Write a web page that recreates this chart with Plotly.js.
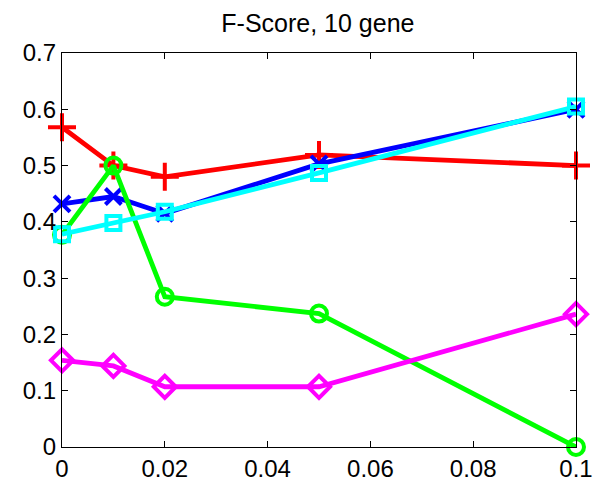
<!DOCTYPE html>
<html><head><meta charset="utf-8">
<script src="https://cdn.plot.ly/plotly-3.0.1.min.js"></script>
<style>html,body{margin:0;padding:0;background:#fff;}</style>
</head><body>
<div id="chart" style="width:609px;height:484px;"></div>
<script>
var xVals = [0, 0.01, 0.02, 0.05, 0.1];
var redVals = [0.568, 0.50, 0.480, 0.519, 0.50];
var blueVals = [0.432, 0.445, 0.415, 0.503, 0.60];
var greenVals = [0.377, 0.50, 0.267, 0.237, 0.0];
var cyanVals = [0.378, 0.398, 0.418, 0.487, 0.605];
var magentaVals = [0.154, 0.144, 0.107, 0.107, 0.236];
var xTicks = [0, 0.02, 0.04, 0.06, 0.08, 0.1];
var xTickText = ['0', '0.02', '0.04', '0.06', '0.08', '0.1'];
var yTicks = [0, 0.1, 0.2, 0.3, 0.4, 0.5, 0.6, 0.7];
var yTickText = ['0', '0.1', '0.2', '0.3', '0.4', '0.5', '0.6', '0.7'];

function tr(y, color, sym, size) {
  return {x: xVals, y: y, type: 'scatter', mode: 'lines+markers', cliponaxis: false,
    line: {color: color, width: 4.8},
    marker: {symbol: sym, size: size, color: color, line: {color: color, width: 4}}};
}
var data = [
  tr(redVals, '#ff0000', 'cross-thin-open', 20),
  tr(blueVals, '#0000ff', 'x-thin-open', 16),
  tr(greenVals, '#00ff00', 'circle-open', 16),
  tr(cyanVals, '#00ffff', 'square-open', 14),
  tr(magentaVals, '#ff00ff', 'diamond-open', 17)
];
var fontFam = 'Liberation Sans, Arial, sans-serif';
var layout = {
  width: 609, height: 484,
  margin: {l: 62, r: 33, t: 53, b: 37},
  paper_bgcolor: '#fff', plot_bgcolor: '#fff',
  showlegend: false,
  title: {text: 'F-Score, 10 gene', font: {family: fontFam, size: 25, color: '#000'}, x: 0.522, xanchor: 'center', y: 0.952, yanchor: 'middle'},
  xaxis: {range: [0, 0.1], tickvals: xTicks, ticktext: xTickText, ticks: 'inside', ticklen: 6, tickwidth: 1, tickcolor: '#000',
    showline: true, linecolor: '#000', linewidth: 1.2, mirror: 'ticks', showgrid: false, zeroline: false,
    tickfont: {family: fontFam, size: 24, color: '#000'}},
  yaxis: {range: [0, 0.7], tickvals: yTicks, ticktext: yTickText, ticks: 'inside', ticklen: 6, tickwidth: 1, tickcolor: '#000',
    showline: true, linecolor: '#000', linewidth: 1.2, mirror: 'ticks', showgrid: false, zeroline: false,
    tickfont: {family: fontFam, size: 24, color: '#000'}}
};
Plotly.newPlot('chart', data, layout, {displayModeBar: false, staticPlot: true});
</script>
</body></html>
